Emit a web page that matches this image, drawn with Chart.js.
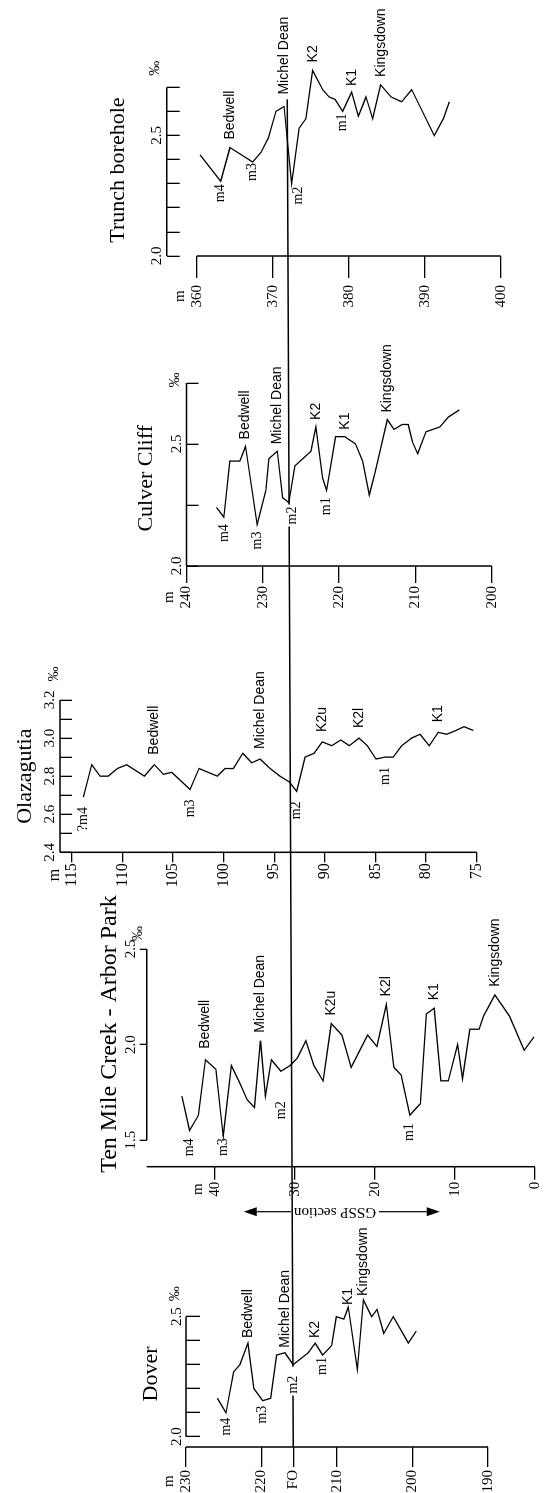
<!DOCTYPE html>
<html>
<head>
<meta charset="utf-8">
<title>Carbon-isotope correlation, five sections</title>
<script src="https://cdn.jsdelivr.net/npm/chart.js@4.4.1/dist/chart.umd.min.js"></script>
<style>
  html, body { margin: 0; padding: 0; background: #fff; width: 546px; height: 1493px; overflow: hidden; }
  /* the figure is laid out landscape and turned a quarter turn to stand upright */
  #sheet { position: absolute; left: 0; top: 0; width: 1493px; height: 546px;
           transform-origin: 0 0; transform: translateY(1493px) rotate(-90deg); background: #fff; }
  #sheet canvas { position: absolute; top: 0; }
</style>
</head>
<body>
<div id="sheet"><canvas id="links" width="1493" height="546" style="left:0;width:1493px;height:546px"></canvas></div>
<script>
// ---------------- Dover ----------------
const doverDepth = [225.85, 224.7, 223.7, 222.85, 221.8, 221.0, 219.85, 218.8, 218.0, 216.9, 215.8, 213.8, 212.9,
                    211.9, 210.7, 210.1, 209.1, 208.5, 207.3, 206.5, 205.4, 204.7, 203.8, 202.55, 200.55, 199.5];
const doverD13C  = [2.16, 2.10, 2.27, 2.30, 2.39, 2.20, 2.15, 2.16, 2.34, 2.35, 2.30, 2.35, 2.39,
                    2.34, 2.38, 2.50, 2.49, 2.54, 2.28, 2.57, 2.50, 2.53, 2.43, 2.50, 2.39, 2.44];
const doverDepthTicks = [230, 220, 210, 200, 190];
const doverFO = 215.8;   // first-occurrence level, marked "FO" on the depth axis
const doverD13CTicks = [2.0, 2.1, 2.2, 2.3, 2.4, 2.5];
const doverD13CLabels = [2.0, 2.5];
const doverEvents = [['m4', 1, 'L'], ['Bedwell', 4, 'R'], ['m3', 6, 'L'], ['Michel Dean', 9, 'R'], ['m2', 10, 'L'],
                     ['K2', 12, 'R'], ['m1', 13, 'L'], ['K1', 17, 'R'], ['Kingsdown', 19, 'R']];

// ---------------- Ten Mile Creek - Arbor Park ----------------
const tenMileDepth = [44.12, 43.17, 42.06, 41.19, 39.88, 38.97, 37.94, 36.91, 35.96, 35.06, 34.31, 33.70, 32.95, 31.76,
                      30.61, 29.70, 28.63, 27.64, 26.49, 25.46, 24.14, 22.98, 20.92, 19.77, 18.57, 17.63, 16.72, 15.65,
                      14.33, 13.59, 12.60, 11.78, 10.83, 9.67, 9.06, 8.15, 7.00, 6.42, 5.02, 3.21, 1.35, 0.12];
const tenMileD13C  = [1.73, 1.55, 1.63, 1.92, 1.87, 1.52, 1.89, 1.80, 1.71, 1.67, 2.02, 1.73, 1.92, 1.86,
                      1.89, 1.93, 2.02, 1.89, 1.81, 2.11, 2.05, 1.88, 2.05, 1.99, 2.21, 1.88, 1.84, 1.63,
                      1.69, 2.16, 2.19, 1.81, 1.81, 2.00, 1.82, 2.08, 2.08, 2.15, 2.26, 2.15, 1.97, 2.04];
const tenMileDepthTicks = [40, 30, 20, 10, 0];
const tenMileD13CTicks = [1.5, 2.0, 2.5];
const tenMileD13CLabels = [1.5, 2.0, 2.5];
const tenMileEvents = [['m4', 1, 'L'], ['Bedwell', 3, 'R'], ['m3', 5, 'L'], ['Michel Dean', 10, 'R'], ['m2', 13, 'L'],
                       ['K2u', 19, 'R'], ['K2l', 24, 'R'], ['m1', 27, 'L'], ['K1', 30, 'R'], ['Kingsdown', 38, 'R']];
const gsspTop = 36.4, gsspBase = 11.9, gsspMid = 25.0;   // GSSP section interval, metres

// ---------------- Olazagutia ----------------
const olazDepth = [113.85, 113.03, 112.2, 111.39, 110.5, 109.57, 107.83, 106.84, 105.95, 105.12, 103.32, 102.43, 101.51,
                   100.62, 99.86, 99.04, 98.11, 97.22, 96.4, 95.41, 94.43, 93.51, 92.78, 91.96, 91.07, 90.25, 89.32,
                   88.43, 87.58, 86.62, 85.8, 84.95, 84.06, 83.24, 82.41, 81.42, 80.6, 79.68, 78.79, 77.96, 77.04,
                   76.25, 75.34];
const olazD13C  = [2.69, 2.86, 2.80, 2.80, 2.84, 2.86, 2.80, 2.86, 2.81, 2.82, 2.73, 2.84, 2.82,
                   2.80, 2.84, 2.84, 2.92, 2.87, 2.89, 2.84, 2.80, 2.77, 2.72, 2.90, 2.92, 2.98, 2.96,
                   2.99, 2.96, 3.00, 2.96, 2.89, 2.90, 2.90, 2.96, 3.00, 3.02, 2.96, 3.03, 3.02, 3.04,
                   3.06, 3.04];
const olazDepthTicks = [115, 110, 105, 100, 95, 90, 85, 80, 75];
const olazD13CTicks = [2.4, 2.5, 2.6, 2.7, 2.8, 2.9, 3.0, 3.1, 3.2];
const olazD13CLabels = [2.4, 2.6, 2.8, 3.0, 3.2];
const olazEvents = [['?m4', 0, 'L'], ['Bedwell', 7, 'R'], ['m3', 10, 'L'], ['Michel Dean', 18, 'R'], ['m2', 22, 'L'],
                    ['K2u', 25, 'R'], ['K2l', 29, 'R'], ['m1', 32, 'L'], ['K1', 38, 'R']];

// ---------------- Culver Cliff ----------------
const culverDepth = [236.07, 235.1, 234.32, 233.0, 232.26, 230.74, 229.6, 229.21, 228.1, 227.41, 226.58, 225.8, 223.7,
                     223.04, 222.16, 221.64, 220.46, 219.24, 217.84, 216.92, 216.05, 215.3, 213.69, 212.81, 211.72,
                     210.94, 210.41, 209.7, 208.62, 206.78, 205.69, 204.25];
const culverD13C  = [2.24, 2.20, 2.43, 2.43, 2.49, 2.17, 2.31, 2.44, 2.47, 2.28, 2.26, 2.41, 2.47,
                     2.57, 2.36, 2.31, 2.53, 2.53, 2.50, 2.43, 2.29, 2.38, 2.60, 2.56, 2.58,
                     2.58, 2.51, 2.46, 2.55, 2.57, 2.61, 2.64];
const culverDepthTicks = [240, 230, 220, 210, 200];
const culverD13CTicks = [2.0, 2.25, 2.5, 2.75];
const culverD13CLabels = [2.0, 2.5];
const culverEvents = [['m4', 1, 'L'], ['Bedwell', 4, 'R'], ['m3', 5, 'L'], ['Michel Dean', 8, 'R'], ['m2', 10, 'L'],
                      ['K2', 13, 'R'], ['m1', 15, 'L'], ['K1', 17, 'R'], ['Kingsdown', 22, 'R']];

// ---------------- Trunch borehole ----------------
const trunchDepth = [360.43, 363.16, 364.38, 367.37, 368.46, 369.42, 370.43, 371.49, 372.5, 373.46, 374.38, 375.26,
                     376.58, 377.41, 378.2, 379.21, 380.39, 381.27, 382.28, 383.16, 384.21, 385.57, 386.97, 388.29,
                     391.26, 392.45, 393.24];
const trunchD13C  = [2.42, 2.31, 2.45, 2.39, 2.43, 2.49, 2.60, 2.62, 2.30, 2.53, 2.57, 2.77,
                     2.69, 2.66, 2.65, 2.60, 2.68, 2.58, 2.66, 2.57, 2.71, 2.66, 2.64, 2.69,
                     2.50, 2.57, 2.64];
const trunchDepthTicks = [360, 370, 380, 390, 400];
const trunchD13CTicks = [2.0, 2.1, 2.2, 2.3, 2.4, 2.5, 2.6, 2.7];
const trunchD13CLabels = [2.0, 2.5];
const trunchEvents = [['m4', 1, 'L'], ['Bedwell', 2, 'R'], ['m3', 3, 'L'], ['Michel Dean', 7, 'R'], ['m2', 8, 'L'],
                      ['K2', 11, 'R'], ['m1', 15, 'L'], ['K1', 16, 'R'], ['Kingsdown', 20, 'R']];
const trunchM2 = 371.92;   // level of the m2 horizon in the borehole

// ---------------- styling and layout ----------------
const SERIF = '"Liberation Serif", "Times New Roman", Times, serif';
const SANS = '"Liberation Sans", Arial, Helvetica, sans-serif';
const H = 546;    // sheet height (landscape)
const XH = 30;    // fixed height of the isotope axis box

const panels = [
  { key: 'dover', title: 'Dover', depth: doverDepth, d13c: doverD13C, events: doverEvents,
    yTicks: [...doverDepthTicks, doverFO].sort((a, b) => b - a), xTicks: doverD13CTicks, xLabels: doverD13CLabels,
    depthName: v => (Math.abs(v - doverFO) < 1e-6 ? 'FO' : String(v)),
    box: [0, 282], area: [46, 176.3, 186, 488],
    xMin: 1.957, xMax: 2.5, xTick: -14, xPad: 14.3, yMin: 190, yMax: 230, yRev: false, yTick: 20, yPad: 3, yFont: 15,
    xLine: [2.0, 2.5], yLine: [230, 190], permil: [2.5, 23, 11], titleStyle: [2.7, 34.3, 22] },
  { key: 'tenMile', title: 'Ten Mile Creek - Arbor Park', depth: tenMileDepth, d13c: tenMileD13C, events: tenMileEvents,
    yTicks: tenMileDepthTicks, xTicks: tenMileD13CTicks, xLabels: tenMileD13CLabels, depthName: v => String(v),
    box: [286, 600], area: [326.3, 544, 146.7, 539.3],
    xMin: 1.3604, xMax: 2.5, xTick: 7, xPad: 0, yMin: 0, yMax: 48.53, yRev: false, yTick: 13, yPad: 2, yFont: 15,
    xLine: [1.5, 2.5], yLine: [48.53, 0], permil: [2.5, 15.5, 9], titleStyle: [10.5, 36.7, 24] },
  { key: 'olaz', title: 'Olazagutia', depth: olazDepth, d13c: olazD13C, events: olazEvents,
    yTicks: olazDepthTicks, xTicks: olazD13CTicks, xLabels: olazD13CLabels, depthName: v => String(v),
    box: [595, 880], area: [640.7, 793, 60, 476.7],
    xMin: 2.4, xMax: 3.2, xTick: -12, xPad: 13, yMin: 75, yMax: 116.16, yRev: false, yTick: 10, yPad: 1, yFont: 16,
    xLine: [2.4, 3.2], yLine: [116.16, 75], permil: [3.2, 26, 6], titleStyle: [0, 35, 22] },
  { key: 'culver', title: 'Culver Cliff', depth: culverDepth, d13c: culverD13C, events: culverEvents,
    yTicks: culverDepthTicks, xTicks: culverD13CTicks, xLabels: culverD13CLabels, depthName: v => String(v),
    box: [875, 1165], area: [927, 1110, 186.5, 491.7],
    xMin: 2.0, xMax: 2.75, xTick: -12, xPad: 12.3, yMin: 200, yMax: 240, yRev: false, yTick: 17, yPad: 3, yFont: 15,
    xLine: [2.0, 2.75], yLine: [240, 200], permil: [2.75, 3, 11], titleStyle: [-3.8, 39.8, 22] },
  { key: 'trunch', title: 'Trunch borehole', depth: trunchDepth, d13c: trunchD13C, events: trunchEvents,
    yTicks: trunchDepthTicks, xTicks: trunchD13CTicks, xLabels: trunchD13CLabels, depthName: v => String(v),
    box: [1165, 1493], area: [1237, 1405.7, 166.7, 500.7],
    xMin: 2.0, xMax: 2.7, xTick: -13, xPad: 14, yMin: 356.05, yMax: 400, yRev: true, yTick: 22, yPad: 7, yFont: 15,
    xLine: [2.0, 2.7], yLine: [360, 400], permil: [2.7, 19, 11.7], titleStyle: [1.6, 48.7, 22] }
];

// distance between a curve extreme and its event name
const eventGap = { dover: 5, tenMile: 8, olaz: 10, culver: 7, trunch: 6 };
const eventTweaks = {
  'dover:m2': { gap: 11, mask: true }, 'dover:m1': { gap: 2 }, 'dover:K1': { gap: 2 }, 'dover:Kingsdown': { gap: 4 },
  'tenMile:m2': { gap: 30 }, 'tenMile:m3': { gap: 2 }, 'tenMile:Bedwell': { gap: 11 },
  'culver:m2': { gap: 4, dy: 3, mask: true },
  'trunch:m2': { gap: 3, dy: 7 }, 'trunch:m3': { gap: 1 }, 'trunch:m4': { gap: 3 }, 'trunch:m1': { gap: 2 },
  'trunch:Michel Dean': { gap: 12 }, 'trunch:Bedwell': { gap: 8 }, 'trunch:K2': { gap: 8 }, 'trunch:Kingsdown': { gap: 8 }
};

function decor(p) {
  return {
    id: 'decor_' + p.key,
    afterDatasetsDraw(chart) {
      const ctx = chart.ctx, xs = chart.scales.x, ys = chart.scales.y;
      ctx.save();
      ctx.textBaseline = 'middle';
      for (const [text, idx, side] of p.events) {
        const t = eventTweaks[p.key + ':' + text] || {};
        const gap = t.gap !== undefined ? t.gap : eventGap[p.key];
        const px = xs.getPixelForValue(p.d13c[idx]);
        const py = ys.getPixelForValue(p.depth[idx]) + (t.dy || 0);
        ctx.font = /^\??m\d/.test(text) ? `14px ${SERIF}` : `14px ${SANS}`;
        const w = ctx.measureText(text).width;
        const x = side === 'L' ? px - gap : px + gap;
        if (t.mask) {
          ctx.fillStyle = '#fff';
          ctx.fillRect(x - w - 2, py - 8, px - 2 - (x - w - 2), 16);
        }
        ctx.fillStyle = '#000';
        ctx.textAlign = side === 'L' ? 'right' : 'left';
        ctx.fillText(text, x, py);
      }
      ctx.restore();
    },
    afterDraw(chart) {
      const ctx = chart.ctx, xs = chart.scales.x, ys = chart.scales.y, a = chart.chartArea;
      ctx.save();
      // axis lines
      ctx.strokeStyle = '#000';
      ctx.lineWidth = 1.5;
      ctx.beginPath();
      ctx.moveTo(xs.getPixelForValue(p.xLine[0]), a.top);
      ctx.lineTo(xs.getPixelForValue(p.xLine[1]), a.top);
      ctx.moveTo(a.left, ys.getPixelForValue(p.yLine[0]));
      ctx.lineTo(a.left, ys.getPixelForValue(p.yLine[1]));
      ctx.stroke();
      ctx.fillStyle = '#000';
      ctx.textBaseline = 'middle';
      // depth unit above the first depth label
      ctx.font = `${p.yFont}px ${SERIF}`;
      const top = p.yTicks[0];
      const tw = ctx.measureText(p.depthName(top)).width;
      ctx.textAlign = 'center';
      ctx.fillText('m', a.left - p.yTick - p.yPad - tw / 2, ys.getPixelForValue(top) - 17);
      // per-mil sign at the end of the isotope axis
      ctx.font = `15px ${SERIF}`;
      ctx.fillText('\u2030', xs.getPixelForValue(p.permil[0]) + p.permil[1], a.top - p.permil[2]);
      // section name
      const [tdx, tdy, tsize] = p.titleStyle;
      ctx.font = `${tsize}px ${SERIF}`;
      const mid = (xs.getPixelForValue(p.xLine[0]) + xs.getPixelForValue(p.xLine[1])) / 2;
      ctx.fillText(p.title, mid + tdx, a.top - tdy);
      ctx.restore();
    }
  };
}

const sheet = document.getElementById('sheet');
const charts = {};

for (const p of panels) {
  const cv = document.createElement('canvas');
  const w = p.box[1] - p.box[0];
  cv.width = w; cv.height = H;
  cv.style.left = p.box[0] + 'px'; cv.style.width = w + 'px'; cv.style.height = H + 'px';
  sheet.appendChild(cv);
  const [L, R, T, B] = p.area;
  const yw = L - p.box[0];   // depth axis box reaches the canvas edge so its labels are not clipped
  charts[p.key] = new Chart(cv, {
    type: 'scatter',
    data: {
      datasets: [{
        data: p.depth.map((d, i) => ({ x: p.d13c[i], y: d })),
        showLine: true, borderColor: '#000', borderWidth: 1.3, pointRadius: 0, pointHoverRadius: 0,
        tension: 0, clip: false
      }]
    },
    options: {
      responsive: false, animation: false, devicePixelRatio: 1, events: [],
      layout: { padding: { left: 0, right: p.box[1] - R, top: T - XH, bottom: H - B } },
      plugins: { legend: { display: false }, tooltip: { enabled: false }, title: { display: false } },
      scales: {
        x: {
          type: 'linear', position: 'top', min: p.xMin, max: p.xMax,
          afterBuildTicks: s => { s.ticks = p.xTicks.map(v => ({ value: v })); },
          afterFit: s => { s.height = XH; },
          border: { display: false },
          grid: { drawOnChartArea: false, drawTicks: true, tickLength: p.xTick, color: '#000', lineWidth: 1.3 },
          ticks: {
            autoSkip: false, maxRotation: 0, minRotation: 0, padding: p.xPad, color: '#000',
            font: { family: SERIF, size: 15 },
            callback: v => (p.xLabels.some(l => Math.abs(l - v) < 1e-6) ? Number(v).toFixed(1) : '')
          }
        },
        y: {
          type: 'linear', position: 'left', min: p.yMin, max: p.yMax, reverse: p.yRev,
          afterBuildTicks: s => { s.ticks = p.yTicks.map(v => ({ value: v })); },
          afterFit: s => { s.width = yw; },
          border: { display: false },
          grid: { drawOnChartArea: false, drawTicks: true, tickLength: p.yTick, color: '#000', lineWidth: 1.3 },
          ticks: {
            autoSkip: false, padding: p.yPad, color: '#000',
            font: { family: SERIF, size: p.yFont },
            callback: v => p.depthName(v)
          }
        }
      }
    },
    plugins: [decor(p)]
  });
}

// ---------------- correlation line and GSSP interval ----------------
(function drawLinks() {
  const ctx = document.getElementById('links').getContext('2d');
  const pos = {};
  panels.forEach(p => { pos[p.key] = p.box[0]; });
  const dov = charts.dover, tr = charts.trunch, tm = charts.tenMile;

  // m2 / FO horizon traced across all sections
  const x0 = pos.dover + dov.chartArea.left;
  const y0 = dov.scales.y.getPixelForValue(doverFO);
  const x1 = pos.trunch + tr.scales.x.getPixelForValue(2.65);
  const y1 = tr.scales.y.getPixelForValue(trunchM2);
  ctx.strokeStyle = '#000';
  ctx.lineWidth = 1.4;
  ctx.beginPath();
  ctx.moveTo(x0, y0);
  ctx.lineTo(x1, y1);
  ctx.stroke();

  // GSSP section double arrow beside the Ten Mile Creek depth axis
  const gx = pos.tenMile + tm.chartArea.left - 45;
  const ya = tm.scales.y.getPixelForValue(gsspTop);
  const yb = tm.scales.y.getPixelForValue(gsspBase);
  const yc = tm.scales.y.getPixelForValue(gsspMid);
  ctx.font = `15px ${SERIF}`;
  const half = ctx.measureText('GSSP section').width / 2 + 3;
  const head = 13, hw = 4.5;
  ctx.lineWidth = 1.2;
  ctx.beginPath();
  ctx.moveTo(gx, ya + head); ctx.lineTo(gx, yc - half);
  ctx.moveTo(gx, yc + half); ctx.lineTo(gx, yb - head);
  ctx.stroke();
  ctx.fillStyle = '#000';
  ctx.beginPath();
  ctx.moveTo(gx, ya); ctx.lineTo(gx - hw, ya + head); ctx.lineTo(gx + hw, ya + head); ctx.closePath();
  ctx.moveTo(gx, yb); ctx.lineTo(gx - hw, yb - head); ctx.lineTo(gx + hw, yb - head); ctx.closePath();
  ctx.fill();
  ctx.save();
  ctx.translate(gx, yc);
  ctx.rotate(-Math.PI / 2);
  ctx.textAlign = 'center';
  ctx.textBaseline = 'middle';
  ctx.fillText('GSSP section', 0, 0);
  ctx.restore();
})();
</script>
</body>
</html>
